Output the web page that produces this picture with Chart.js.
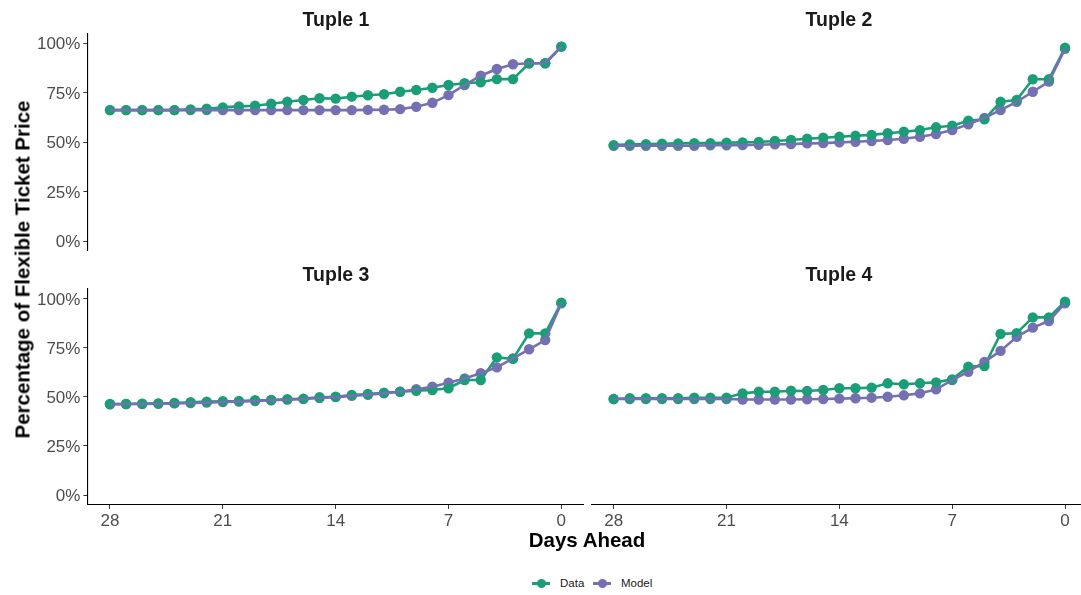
<!DOCTYPE html>
<html>
<head>
<meta charset="utf-8">
<script src="https://cdn.jsdelivr.net/npm/chart.js@4.4.1/dist/chart.umd.min.js"></script>
<style>
  html, body { margin: 0; padding: 0; background: #fff; width: 1081px; height: 595px; overflow: hidden; }
  body { position: relative; font-family: "Liberation Sans", Arial, sans-serif; }
  canvas { position: absolute; }
  .ptitle { position: absolute; width: 200px; text-align: center; font-weight: bold; font-size: 19.5px; line-height: 19.5px; color: #1a1a1a; }
  .axtitle { position: absolute; text-align: center; font-weight: bold; font-size: 20.5px; line-height: 21px; color: #000; white-space: nowrap; }
  .leg-line { position: absolute; height: 2.5px; width: 18px; }
  .leg-dot { position: absolute; width: 9px; height: 9px; border-radius: 50%; }
  .leg-text { position: absolute; font-size: 11.5px; line-height: 12px; color: #1a1a1a; }
</style>
</head>
<body>
<canvas id="c1" width="610" height="280" style="left:0;top:0"></canvas>
<canvas id="c2" width="540" height="280" style="left:570px;top:0"></canvas>
<canvas id="c3" width="610" height="300" style="left:0;top:260px"></canvas>
<canvas id="c4" width="540" height="300" style="left:570px;top:260px"></canvas>

<div class="ptitle" style="left:236px;top:9.5px">Tuple 1</div>
<div class="ptitle" style="left:739px;top:9.5px">Tuple 2</div>
<div class="ptitle" style="left:236px;top:264.6px">Tuple 3</div>
<div class="ptitle" style="left:739px;top:264.6px">Tuple 4</div>

<div class="axtitle" style="left:437px;top:529px;width:300px">Days Ahead</div>
<div class="axtitle" style="left:-178.5px;top:258.5px;width:400px;transform:rotate(-90deg)">Percentage of Flexible Ticket Price</div>

<div class="leg-line" style="left:532px;top:582px;background:#1B9E77"></div>
<div class="leg-dot" style="left:536.5px;top:578.5px;background:#1B9E77"></div>
<div class="leg-text" style="left:560px;top:577px">Data</div>
<div class="leg-line" style="left:593px;top:582px;background:#7570B3"></div>
<div class="leg-dot" style="left:597.5px;top:578.5px;background:#7570B3"></div>
<div class="leg-text" style="left:621px;top:577px">Model</div>

<script>
// Days ahead (x categories) and axis ticks
const days = [28, 27, 26, 25, 24, 23, 22, 21, 20, 19, 18, 17, 16, 15, 14, 13, 12, 11, 10, 9, 8, 7, 6, 5, 4, 3, 2, 1, 0];
const xTicks = [28, 21, 14, 7, 0];
const yTicks = [0, 0.25, 0.5, 0.75, 1];

// Share of flexible ticket price, one value per day above
const tuple1Data  = [0.662, 0.662, 0.662, 0.662, 0.662, 0.666, 0.669, 0.676, 0.681, 0.684, 0.694, 0.704, 0.713, 0.722, 0.720, 0.730, 0.737, 0.742, 0.755, 0.764, 0.775, 0.789, 0.798, 0.803, 0.819, 0.819, 0.899, 0.899, 0.983];
const tuple1Model = [0.662, 0.662, 0.662, 0.662, 0.662, 0.662, 0.662, 0.662, 0.662, 0.662, 0.662, 0.662, 0.662, 0.662, 0.662, 0.662, 0.663, 0.664, 0.667, 0.679, 0.699, 0.738, 0.789, 0.836, 0.870, 0.894, 0.899, 0.899, 0.983];
const tuple2Data  = [0.485, 0.489, 0.490, 0.492, 0.494, 0.495, 0.495, 0.497, 0.499, 0.501, 0.506, 0.511, 0.517, 0.522, 0.527, 0.532, 0.537, 0.545, 0.553, 0.561, 0.575, 0.583, 0.608, 0.615, 0.704, 0.713, 0.818, 0.818, 0.978];
const tuple2Model = [0.482, 0.482, 0.482, 0.482, 0.482, 0.482, 0.484, 0.484, 0.485, 0.487, 0.489, 0.490, 0.494, 0.495, 0.499, 0.502, 0.506, 0.511, 0.517, 0.527, 0.541, 0.561, 0.590, 0.623, 0.662, 0.704, 0.755, 0.806, 0.972];
const tuple3Data  = [0.463, 0.463, 0.465, 0.466, 0.468, 0.472, 0.475, 0.477, 0.478, 0.482, 0.483, 0.487, 0.490, 0.497, 0.500, 0.509, 0.514, 0.520, 0.525, 0.530, 0.534, 0.543, 0.585, 0.585, 0.700, 0.692, 0.822, 0.822, 0.978];
const tuple3Model = [0.461, 0.463, 0.463, 0.464, 0.466, 0.468, 0.470, 0.473, 0.475, 0.478, 0.482, 0.485, 0.488, 0.493, 0.498, 0.504, 0.510, 0.517, 0.525, 0.538, 0.551, 0.571, 0.593, 0.619, 0.649, 0.695, 0.741, 0.788, 0.975];
const tuple4Data  = [0.488, 0.492, 0.492, 0.492, 0.492, 0.495, 0.495, 0.495, 0.517, 0.525, 0.525, 0.530, 0.529, 0.534, 0.543, 0.543, 0.546, 0.568, 0.563, 0.568, 0.573, 0.588, 0.653, 0.656, 0.819, 0.823, 0.903, 0.903, 0.983];
const tuple4Model = [0.488, 0.488, 0.488, 0.488, 0.488, 0.488, 0.488, 0.488, 0.486, 0.486, 0.486, 0.486, 0.487, 0.488, 0.490, 0.492, 0.495, 0.500, 0.507, 0.517, 0.537, 0.584, 0.627, 0.677, 0.733, 0.804, 0.851, 0.885, 0.975];

const green = "#1B9E77";
const purple = "#7570B3";
const fontFamily = '"Liberation Sans", Arial, sans-serif';

function pts(vals) {
  return days.map((d, i) => ({ x: d, y: vals[i] }));
}

function makePanel(id, dataVals, modelVals, showX, showY, pad) {
  const ctx = document.getElementById(id);
  const tickFont = { family: fontFamily, size: 17 };
  new Chart(ctx, {
    type: "line",
    data: {
      datasets: [
        // lower order = drawn on top
        { data: pts(modelVals), borderColor: purple, borderWidth: 2.6, pointRadius: 0, borderJoinStyle: "round", order: 1 },
        { data: pts(dataVals), showLine: false, pointRadius: 5.2, pointBorderWidth: 0, backgroundColor: green, borderColor: green, order: 2 },
        { data: pts(dataVals), borderColor: green, borderWidth: 2.6, pointRadius: 0, borderJoinStyle: "round", order: 3 },
        { data: pts(modelVals), showLine: false, pointRadius: 5.2, pointBorderWidth: 0, backgroundColor: purple, borderColor: purple, order: 4 },
      ],
    },
    options: {
      responsive: false,
      animation: false,
      events: [],
      layout: { padding: pad },
      plugins: { legend: { display: false }, tooltip: { enabled: false } },
      scales: {
        x: {
          type: "linear",
          reverse: true,
          min: -1.4,
          max: 29.4,
          display: showX,
          afterBuildTicks: (s) => { s.ticks = xTicks.map((v) => ({ value: v })); },
          afterFit: (s) => { s.height = showX ? 25.1 : 0; },
          grid: { display: true, drawOnChartArea: false, drawTicks: true, tickLength: 4, color: "#333" },
          border: { display: true, color: "#000", width: 1.1 },
          ticks: { color: "#4d4d4d", font: tickFont, padding: 2, maxRotation: 0, autoSkip: false },
        },
        y: {
          type: "linear",
          min: -0.05,
          max: 1.05,
          display: showY,
          afterBuildTicks: (s) => { s.ticks = yTicks.map((v) => ({ value: v })); },
          afterFit: (s) => { s.width = showY ? 87.4 : 0; },
          grid: { display: true, drawOnChartArea: false, drawTicks: true, tickLength: 4, color: "#333" },
          border: { display: true, color: "#000", width: 1.1 },
          ticks: { color: "#4d4d4d", font: tickFont, padding: 3, labelOffset: 1.5, autoSkip: false, callback: (v) => Math.round(v * 100) + "%" },
        },
      },
    },
  });
}

// paddings put each plot area at the same place as the reference panels
makePanel("c1", tuple1Data, tuple1Model, false, true, { left: 0, right: 26.1, top: 33.4, bottom: 29.1 });
makePanel("c2", tuple2Data, tuple2Model, false, false, { left: 21.1, right: 22.4, top: 33.4, bottom: 29.1 });
makePanel("c3", tuple3Data, tuple3Model, true, true, { left: 0, right: 26.1, top: 28.5, bottom: 30 });
makePanel("c4", tuple4Data, tuple4Model, true, false, { left: 21.1, right: 22.4, top: 28.5, bottom: 30 });
</script>
</body>
</html>
